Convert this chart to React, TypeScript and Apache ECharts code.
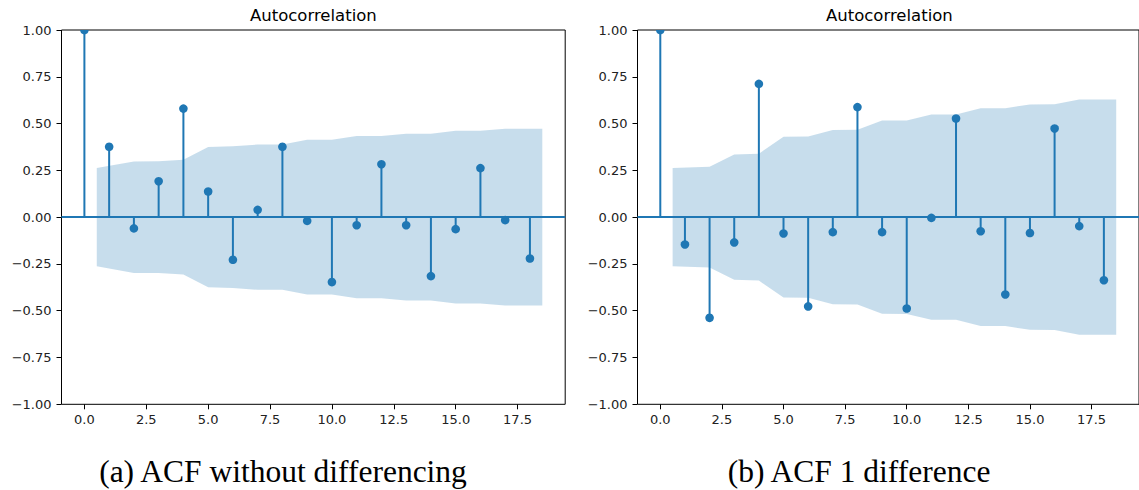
import React, { useEffect, useRef } from "react";
import * as echarts from "echarts";

const lags = [0, 1, 2, 3, 4, 5, 6, 7, 8, 9, 10, 11, 12, 13, 14, 15, 16, 17, 18];
const acfLevel = [1.0, 0.376, -0.06, 0.192, 0.58, 0.137, -0.228, 0.039, 0.376, -0.02, -0.347, -0.043, 0.283, -0.043, -0.315, -0.064, 0.262, -0.016, -0.221];
const acfDiff1 = [1.0, -0.146, -0.538, -0.135, 0.712, -0.087, -0.477, -0.08, 0.588, -0.08, -0.488, -0.004, 0.527, -0.075, -0.413, -0.085, 0.474, -0.048, -0.337];

const bandLags = [0.5, 2, 3, 4, 5, 6, 7, 8, 9, 10, 11, 12, 13, 14, 15, 16, 17, 18.5];
const bandLevel = [0.263, 0.298, 0.299, 0.307, 0.375, 0.379, 0.388, 0.388, 0.413, 0.413, 0.433, 0.433, 0.446, 0.446, 0.461, 0.462, 0.472, 0.472];
const bandDiff1 = [0.263, 0.269, 0.335, 0.339, 0.43, 0.431, 0.466, 0.467, 0.516, 0.517, 0.548, 0.548, 0.582, 0.582, 0.602, 0.603, 0.628, 0.629];

const xTicks = [0, 2.5, 5, 7.5, 10, 12.5, 15, 17.5];
const yTicks = [-1, -0.75, -0.5, -0.25, 0, 0.25, 0.5, 0.75, 1];
const panelTitle = "Autocorrelation";
const captions = ["(a) ACF without differencing", "(b) ACF 1 difference"];

const C0 = "#1f77b4";
const BAND = "rgba(31,119,180,0.25)";
const TXT = "#222";

const X_MIN = -0.925;
const X_MAX = 19.425;

const GRID_TOP = 30;
const GRID_H = 374.3;
const GRID_W = 503.7;
const GRID_LEFTS = [61.5, 637.5];
const CAPTION_X = [283, 859];

export default function App() {
  const ref = useRef<HTMLDivElement>(null);

  useEffect(() => {
    if (!ref.current) return;
    const chart = echarts.init(ref.current, null, { renderer: "svg" });

    const panels = [
      { acf: acfLevel, band: bandLevel },
      { acf: acfDiff1, band: bandDiff1 },
    ];

    const grids: any[] = [];
    const xAxes: any[] = [];
    const yAxes: any[] = [];
    const series: any[] = [];
    const graphics: any[] = [];

    panels.forEach((p, i) => {
      grids.push({
        left: GRID_LEFTS[i],
        top: GRID_TOP,
        width: GRID_W,
        height: GRID_H,
        show: true,
        borderColor: "#000",
        borderWidth: 1,
        backgroundColor: "transparent",
      });
      xAxes.push({
        type: "value",
        gridIndex: i,
        min: X_MIN,
        max: X_MAX,
        axisLine: { show: false, onZero: false },
        splitLine: { show: false },
        axisTick: {
          show: true,
          length: 5,
          customValues: xTicks,
          lineStyle: { color: "#000", width: 1 },
        },
        axisLabel: {
          show: true,
          customValues: xTicks,
          margin: 9,
          color: TXT,
          fontSize: 13,
          fontFamily: "DejaVu Sans",
          formatter: (v: number) => v.toFixed(1),
        },
      });
      yAxes.push({
        type: "value",
        gridIndex: i,
        min: -1,
        max: 1,
        interval: 0.25,
        axisLine: { show: false, onZero: false },
        splitLine: { show: false },
        axisTick: {
          show: true,
          length: 5,
          customValues: yTicks,
          lineStyle: { color: "#000", width: 1 },
        },
        axisLabel: {
          show: true,
          customValues: yTicks,
          margin: 10,
          color: TXT,
          fontSize: 13,
          fontFamily: "DejaVu Sans",
          formatter: (v: number) => (v < 0 ? "\u2212" : "") + Math.abs(v).toFixed(2),
        },
      });

      const upper = bandLags.map((x, k) => [x, p.band[k]]);
      const lower = bandLags.map((x, k) => [x, -p.band[k]]);
      series.push({
        type: "line",
        xAxisIndex: i,
        yAxisIndex: i,
        data: upper,
        symbol: "none",
        lineStyle: { width: 0, opacity: 0 },
        areaStyle: { color: BAND, opacity: 1 },
        z: 1,
        silent: true,
      });
      series.push({
        type: "line",
        xAxisIndex: i,
        yAxisIndex: i,
        data: lower,
        symbol: "none",
        lineStyle: { width: 0, opacity: 0 },
        areaStyle: { color: BAND, opacity: 1 },
        z: 1,
        silent: true,
        markLine: {
          silent: true,
          symbol: ["none", "none"],
          z: 2,
          label: { show: false },
          lineStyle: { color: C0, width: 2, type: "solid" },
          data: [{ yAxis: 0 }],
        },
      });
      series.push({
        type: "custom",
        xAxisIndex: i,
        yAxisIndex: i,
        clip: true,
        z: 3,
        encode: { x: 0, y: 1 },
        data: lags.map((l, k) => [l, p.acf[k]]),
        renderItem: (params: any, api: any) => {
          const x = api.value(0);
          const y = api.value(1);
          const p0 = api.coord([x, 0]);
          const p1 = api.coord([x, y]);
          return {
            type: "group",
            children: [
              {
                type: "line",
                shape: { x1: p0[0], y1: p0[1], x2: p1[0], y2: p1[1] },
                style: { stroke: C0, lineWidth: 2 },
              },
              {
                type: "circle",
                shape: { cx: p1[0], cy: p1[1], r: 4.3 },
                style: { fill: C0 },
              },
            ],
          };
        },
      });

      graphics.push({
        type: "text",
        x: GRID_LEFTS[i] + GRID_W / 2,
        y: 15,
        style: {
          text: panelTitle,
          fontSize: 16.5,
          fontFamily: "DejaVu Sans",
          fill: "#000",
          align: "center",
          verticalAlign: "middle",
        },
      });
      graphics.push({
        type: "text",
        x: CAPTION_X[i],
        y: 471,
        style: {
          text: captions[i],
          fontSize: 31.5,
          fontFamily: "Liberation Serif",
          fill: "#000",
          align: "center",
          verticalAlign: "middle",
        },
      });
    });

    chart.setOption({
      animation: false,
      backgroundColor: "#fff",
      grid: grids,
      xAxis: xAxes,
      yAxis: yAxes,
      series,
      graphic: graphics,
    });

    return () => chart.dispose();
  }, []);

  return (
    <div
      ref={ref}
      style={{ position: "absolute", left: 0, top: 0, width: 1139, height: 490 }}
    />
  );
}
